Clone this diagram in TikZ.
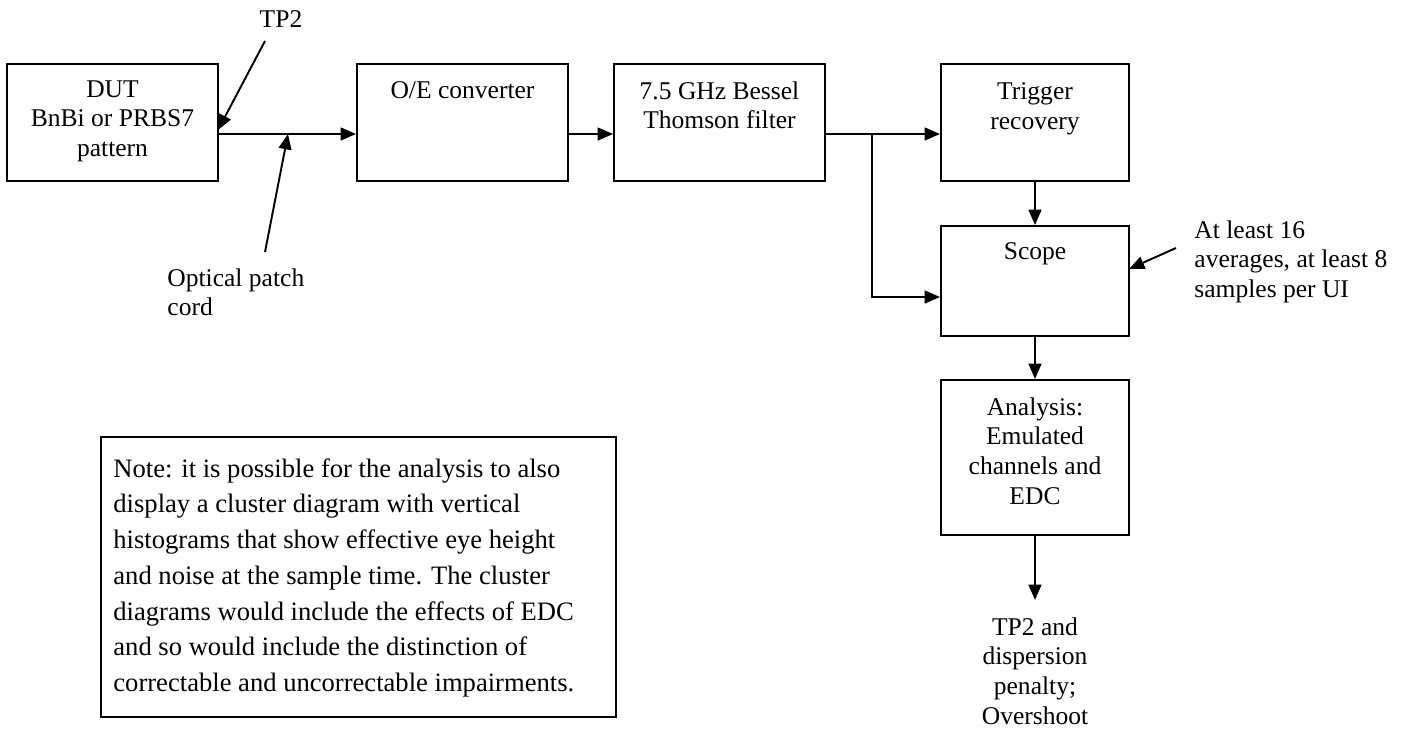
\documentclass[tikz,border=0pt]{standalone}
\usepackage{fontspec}
\setmainfont{Liberation Serif}
\usetikzlibrary{arrows.meta,calc}
\def\pxu{0.47}
\tikzset{
  blk/.style={draw, line width=0.9pt, inner sep=0pt},
  lbl/.style={inner sep=0pt, align=center, font=\fontsize{12}{14}\selectfont},
  arr/.style={line width=0.9pt, -{Triangle[length=7.2pt,width=6pt]}},
  ln/.style={line width=0.9pt}
}
\begin{document}
\begin{tikzpicture}[x=0.47pt, y=-0.47pt]
\useasboundingbox (0,0) rectangle (1410,753);
% boxes
\node[blk, minimum width={211*\pxu pt}, minimum height={117*\pxu pt}] (dut) at (112.5,122.5) {};
\node[blk, minimum width={211*\pxu pt}, minimum height={117*\pxu pt}] (oe) at (462.5,122.5) {};
\node[blk, minimum width={211*\pxu pt}, minimum height={117*\pxu pt}] (filt) at (719.5,122.5) {};
\node[blk, minimum width={188*\pxu pt}, minimum height={117*\pxu pt}] (trig) at (1035,122.5) {};
\node[blk, minimum width={188*\pxu pt}, minimum height={110*\pxu pt}] (scope) at (1035,281) {};
\node[blk, minimum width={188*\pxu pt}, minimum height={155*\pxu pt}] (anal) at (1035,457.5) {};
\node[blk, minimum width={515*\pxu pt}, minimum height={280*\pxu pt}] (note) at (358.5,577) {};
% box texts
\node[lbl, anchor=north] (tdut) at (112.5,80) {DUT\\BnBi or PRBS7\\pattern};
\node[lbl, anchor=north] (toe) at (462.5,81) {O/E converter};
\node[lbl, anchor=north] (tfilt) at (719.5,81) {7.5 GHz Bessel\\Thomson filter};
\node[lbl, anchor=north] (ttrig) at (1035,82) {Trigger\\recovery};
\node[lbl, anchor=north] (tscope) at (1035,242) {Scope};
\node[lbl, anchor=north] (tanal) at (1035,397) {Analysis:\\Emulated\\channels and\\EDC};
\node[lbl, anchor=north west, align=left, font=\fontsize{12.5}{16.8}\selectfont] (tnote) at (113,458)
  {Note: it is possible for the analysis to also\\
   display a cluster diagram with vertical\\
   histograms that show effective eye height\\
   and noise at the sample time. The cluster\\
   diagrams would include the effects of EDC\\
   and so would include the distinction of\\
   correctable and uncorrectable impairments.};
% free labels
\node[lbl, anchor=north] (tp2) at (281,10) {TP2};
\node[lbl, anchor=north west, align=left] (opt) at (167,268) {Optical patch\\cord};
\node[lbl, anchor=north west, align=left] (avg) at (1194,220) {At least 16\\averages, at least 8\\samples per UI};
\node[lbl, anchor=north] (out) at (1035,617) {TP2 and\\dispersion\\penalty;\\Overshoot};
% helper coordinates
\coordinate (main) at (0,134);
\coordinate (j) at (872,134);
\coordinate (jd) at (872,297);
\coordinate (tp2s) at (265,41);
\coordinate (tp2t) at (218,130);
\coordinate (opts) at (265,252);
\coordinate (optt) at (288,134);
\coordinate (avgs) at (1176,248);
\coordinate (avgt) at (1129,269);
\coordinate (outt) at (1035,600);
% connectors
\draw[arr] (dut.east |- main) -- (oe.west |- main);
\draw[arr] (oe.east |- main) -- (filt.west |- main);
\draw[ln] (filt.east |- main) -- (j);
\draw[arr] (j) -- (trig.west |- main);
\draw[arr] (j) -- (jd) -- (scope.west |- jd);
\draw[arr] (trig.south) -- (scope.north);
\draw[arr] (scope.south) -- (anal.north);
\draw[arr] (anal.south) -- (outt);
\draw[arr] (tp2s) -- (tp2t);
\draw[arr] (opts) -- (optt);
\draw[arr] (avgs) -- (avgt);
\end{tikzpicture}
\end{document}
